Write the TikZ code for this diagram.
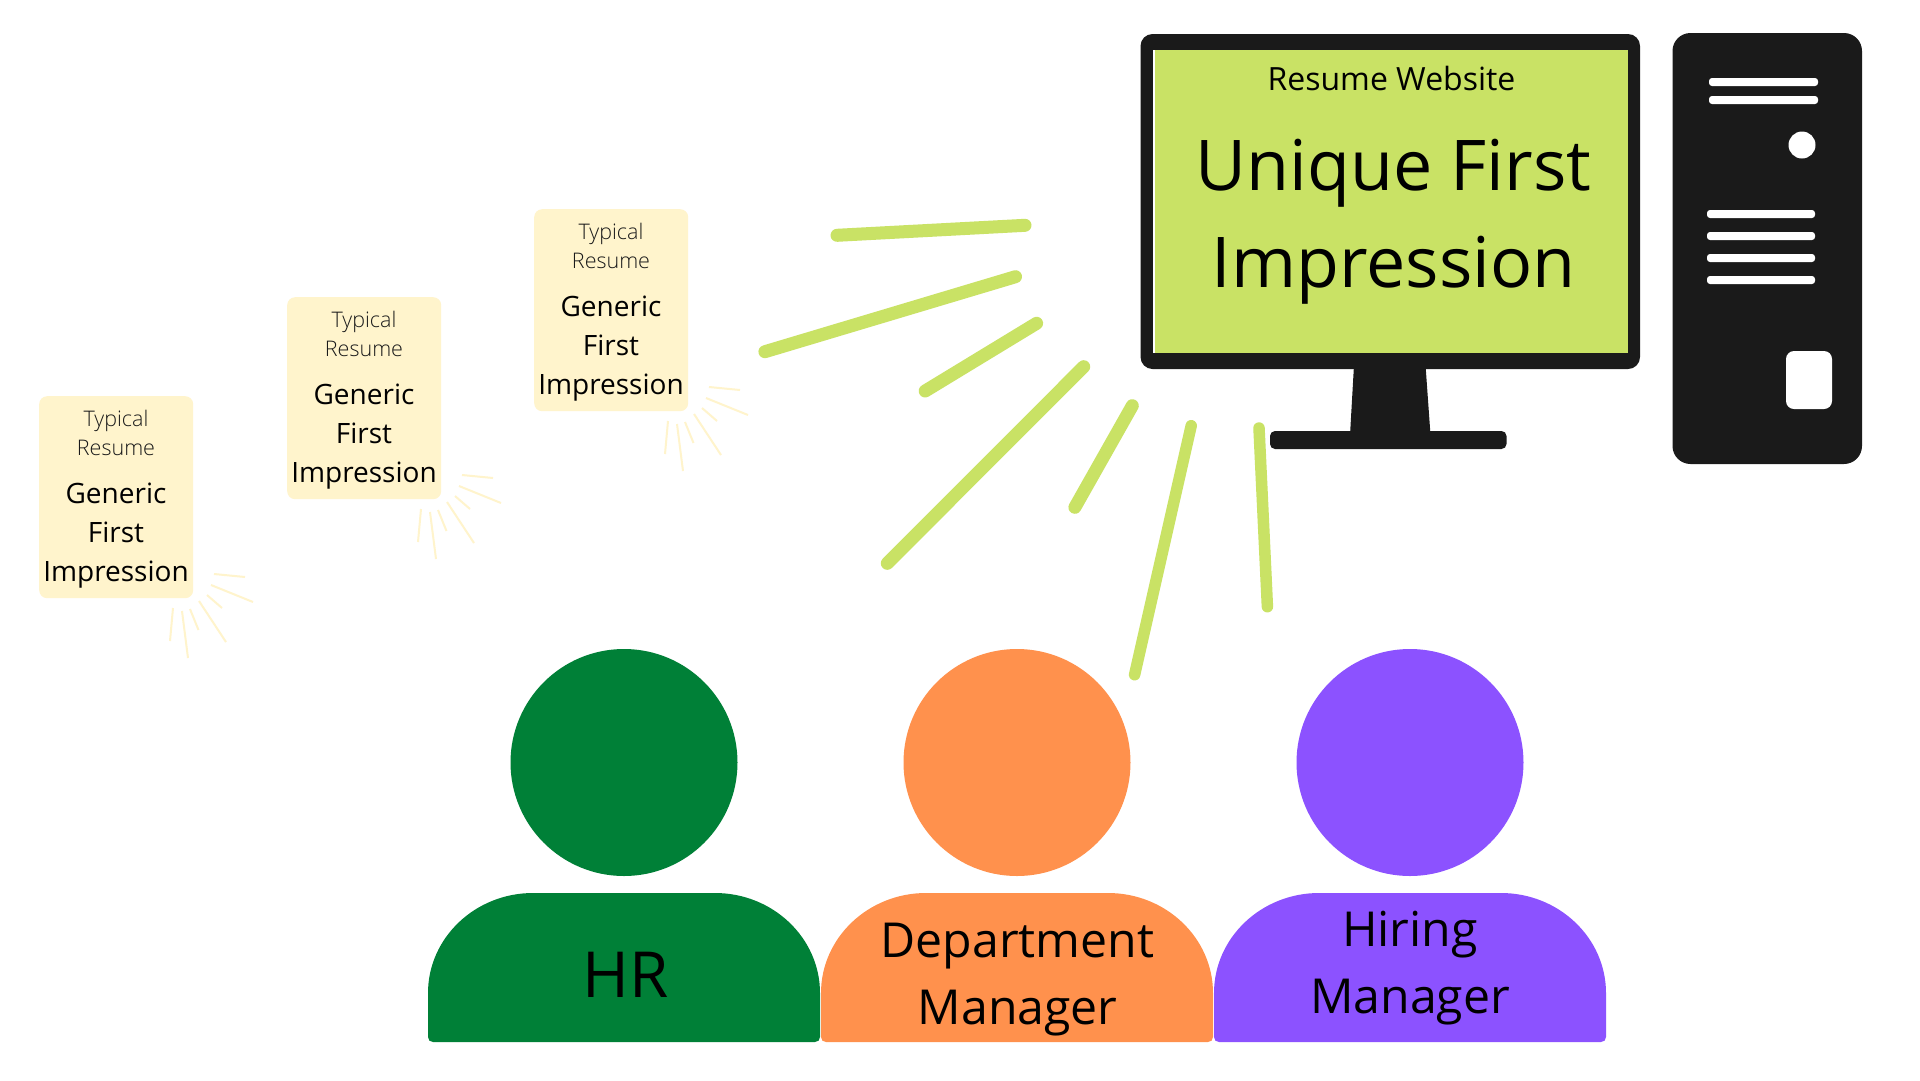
\documentclass[tikz,border=0pt]{standalone}
\usepackage{fontspec}
\setmainfont{Open Sans}
\newfontfamily\oslight{Open Sans Light}
\definecolor{lime}{HTML}{C9E265}
\definecolor{inkdark}{HTML}{1A1A1A}
\definecolor{cream}{HTML}{FFF4CC}
\definecolor{hrgreen}{HTML}{008037}
\definecolor{deptorange}{HTML}{FF914D}
\definecolor{hirepurple}{HTML}{8C52FF}
\tikzset{
  ray/.style={draw=lime,line width=13pt,line cap=round},
  thinray/.style={draw=lime,line width=11.5pt,line cap=round},
  spark/.style={draw=cream,line width=2pt},
  cardbox/.style={fill=cream,rounded corners=8pt,minimum width=154pt,minimum height=202pt,inner sep=0pt,anchor=north west},
  typical/.style={font=\oslight\fontsize{21.5}{29}\selectfont,align=center,inner sep=0pt,anchor=base,text=inkdark},
  generic/.style={font=\fontsize{28}{38.7}\selectfont,align=center,inner sep=0pt,anchor=base,text=black},
  head/.style={circle,inner sep=0pt,minimum size=227pt},
  bodylabel/.style={font=\fontsize{48.2}{66.6}\selectfont,align=center,inner sep=0pt,anchor=base,text=black},
  slot/.style={fill=white,rounded corners=3pt}
}
\newcommand{\resumecard}[3]{%
  \begin{scope}[shift={(#2,#3)}]
    \node[cardbox] (#1box) at (0,0) {};
    \node[typical] (#1typ) at (77,59.8) {Typical\\Resume};
    \node[generic] (#1gen) at (77,185) {Generic\\First\\Impression};
    \draw[spark] (175,178)--(206,181) (172,189)--(214,206) (168,199)--(183,212)
      (160,205)--(187,246) (151,213)--(159.5,234) (143,215)--(149,262) (134,212)--(131,245);
  \end{scope}}
\newcommand{\personshape}[3]{%
  \node[head,fill=#3] (#1head) at (#2+196,762.5) {};
  \begin{scope}[shift={(#2,0)}]
    \fill[#3] (0,1037) -- (0,993) .. controls (0,938) and (47,893) .. (105,893)
      -- (287,893) .. controls (345,893) and (392,938) .. (392,993)
      -- (392,1037) .. controls (392,1040) and (390,1042) .. (387,1042)
      -- (5,1042) .. controls (2,1042) and (0,1040) .. (0,1037) -- cycle;
  \end{scope}}
\begin{document}
\begin{tikzpicture}[x=1pt,y=-1pt]
\useasboundingbox (0,0) rectangle (1920,1080);
\fill[white] (0,0) rectangle (1920,1080);

% rays
\draw[ray] (837,235.3) -- (1025,225.3);
\draw[ray] (764.9,351.7) -- (1015.5,276.7);
\draw[ray] (925.2,391) -- (1036.6,323.3);
\draw[ray] (887.3,563.3) -- (1083.7,366.7);
\draw[ray] (1074.9,507.3) -- (1132.3,405.7);
\draw[thinray] (1134.6,674.7) -- (1191.2,425.7);
\draw[thinray] (1259,428) -- (1267.4,606.7);

% monitor
\fill[inkdark,rounded corners=12pt] (1140.5,34) rectangle (1640,369);
\fill[white] (1153,50) rectangle (1628,353);
\fill[lime] (1154.7,50) rectangle (1628,352.5);
\fill[inkdark] (1354,365) -- (1425.5,365) -- (1430.5,435) -- (1350,435) -- cycle;
\fill[inkdark,rounded corners=5pt] (1270,431) rectangle (1506.5,449);
\node[font=\fontsize{32}{40}\selectfont,inner sep=0pt,anchor=base] (sitetext) at (1391.5,90) {Resume Website};
\node[font=\fontsize{70}{97}\selectfont,align=center,inner sep=0pt,anchor=base] (unique) at (1393.5,287) {Unique First\\Impression};

% tower
\fill[inkdark,rounded corners=18pt] (1672.5,33) rectangle (1862,464);
\fill[slot] (1709,78) rectangle (1818,86);
\fill[slot] (1709,96) rectangle (1818,104);
\fill[white] (1802,145) circle (13.5);
\fill[slot] (1707,210) rectangle (1815,218);
\fill[slot] (1707,232) rectangle (1815,240);
\fill[slot] (1707,254) rectangle (1815,262);
\fill[slot] (1707,276) rectangle (1815,284);
\fill[white,rounded corners=8pt] (1786,351) rectangle (1832,409);

% resumes
\resumecard{a}{39}{396}
\resumecard{b}{287}{297}
\resumecard{c}{534}{209}

% people
\personshape{hr}{428}{hrgreen}
\personshape{dept}{821}{deptorange}
\personshape{hire}{1214}{hirepurple}
\node[font=\fontsize{63.5}{70}\selectfont,inner sep=0pt,anchor=base] (hrtext) at (625.5,997) {HR};
\node[bodylabel] (depttext) at (1017.6,1024) {Department\\Manager};
\node[bodylabel] (hiretext) at (1410,1013.2) {Hiring\\Manager};
\end{tikzpicture}
\end{document}
